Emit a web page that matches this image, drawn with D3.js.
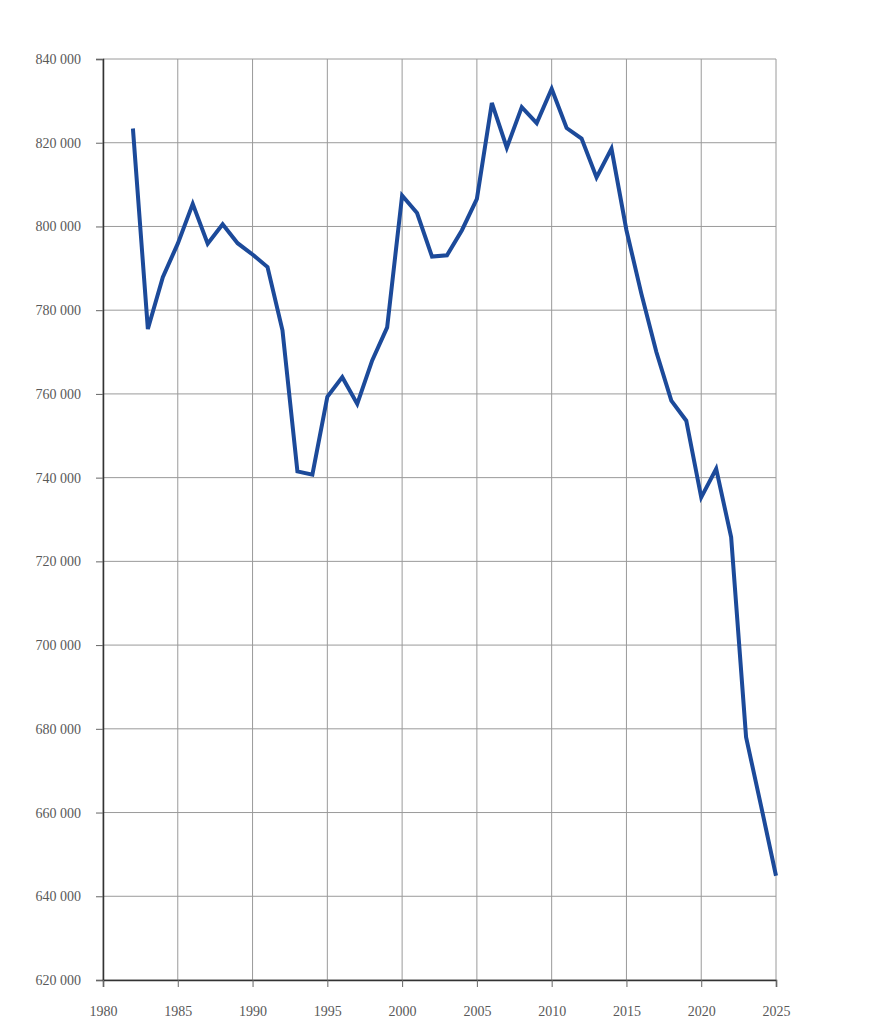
<!DOCTYPE html>
<html lang="en">
  <head>
    <meta charset="UTF-8" />
    <title>Line chart 1982-2025</title>
    <script src="https://d3js.org/d3.v7.min.js"></script>
    <style>
      body {
        margin: 0;
        padding: 0;
        background: #ffffff;
        font-family: "Liberation Serif", "Times New Roman", serif;
      }
      .tick text {
        fill: #595959;
        font-size: 14px;
        font-family: "Liberation Serif", "Times New Roman", serif;
      }
    </style>
  </head>
  <body>
    <div id="chart"></div>
    <script>
      const width = 878;
      const height = 1024;
      const margin = { top: 59, right: 102, bottom: 44, left: 103 };

      const years = [
        1982, 1983, 1984, 1985, 1986, 1987, 1988, 1989, 1990, 1991, 1992,
        1993, 1994, 1995, 1996, 1997, 1998, 1999, 2000, 2001, 2002, 2003,
        2004, 2005, 2006, 2007, 2008, 2009, 2010, 2011, 2012, 2013, 2014,
        2015, 2016, 2017, 2018, 2019, 2020, 2021, 2022, 2023, 2024, 2025,
      ];
      const values = [
        823400, 775500, 787900, 795900, 805400, 795900, 800500, 796000,
        793300, 790300, 775200, 741500, 740700, 759300, 764000, 757600,
        768000, 775900, 807400, 803200, 792800, 793100, 799100, 806600,
        829500, 818800, 828500, 824700, 832900, 823500, 821000, 811700,
        818600, 799100, 783900, 770000, 758400, 753600, 735300, 742100,
        725800, 678000, 661600, 644900,
      ];
      const xTicks = [1980, 1985, 1990, 1995, 2000, 2005, 2010, 2015, 2020, 2025];
      const yTicks = [620000, 640000, 660000, 680000, 700000, 720000, 740000,
        760000, 780000, 800000, 820000, 840000];

      const data = years.map((y, i) => ({ year: y, value: values[i] }));

      const innerW = width - margin.left - margin.right;
      const innerH = height - margin.top - margin.bottom;

      const x = d3.scaleLinear().domain([1980, 2025]).range([0, innerW]);
      const y = d3.scaleLinear().domain([620000, 840000]).range([innerH, 0]);

      const fmt = (d) => d3.format(",")(d).replace(/,/g, " ");

      const svg = d3
        .select("#chart")
        .append("svg")
        .attr("width", width)
        .attr("height", height);

      const g = svg
        .append("g")
        .attr("transform", `translate(${margin.left},${margin.top})`);

      // grid
      g.append("g")
        .selectAll("line")
        .data(yTicks)
        .enter()
        .append("line")
        .attr("x1", 0)
        .attr("x2", innerW)
        .attr("y1", (d) => y(d))
        .attr("y2", (d) => y(d))
        .attr("stroke", "#9a9a9a")
        .attr("stroke-width", 1);

      g.append("g")
        .selectAll("line")
        .data(xTicks)
        .enter()
        .append("line")
        .attr("x1", (d) => x(d))
        .attr("x2", (d) => x(d))
        .attr("y1", 0)
        .attr("y2", innerH)
        .attr("stroke", "#9a9a9a")
        .attr("stroke-width", 1);

      // axes
      const yAxis = g
        .append("g")
        .call(d3.axisLeft(y).tickValues(yTicks).tickFormat(fmt).tickSize(7).tickPadding(15));
      yAxis.select(".domain").attr("stroke", "#333").attr("stroke-width", 1.5);
      yAxis.selectAll(".tick line").attr("stroke", "#666");

      const xAxis = g
        .append("g")
        .attr("transform", `translate(0,${innerH})`)
        .call(d3.axisBottom(x).tickValues(xTicks).tickFormat(d3.format("d")).tickSize(7).tickPadding(19));
      xAxis.select(".domain").attr("stroke", "#333").attr("stroke-width", 1.5);
      xAxis.selectAll(".tick line").attr("stroke", "#666");

      // line
      const line = d3
        .line()
        .x((d) => x(d.year))
        .y((d) => y(d.value));

      g.append("path")
        .datum(data)
        .attr("fill", "none")
        .attr("stroke", "#1c4a9a")
        .attr("stroke-width", 4)
        .attr("stroke-linejoin", "miter")
        .attr("d", line);
    </script>
  </body>
</html>
